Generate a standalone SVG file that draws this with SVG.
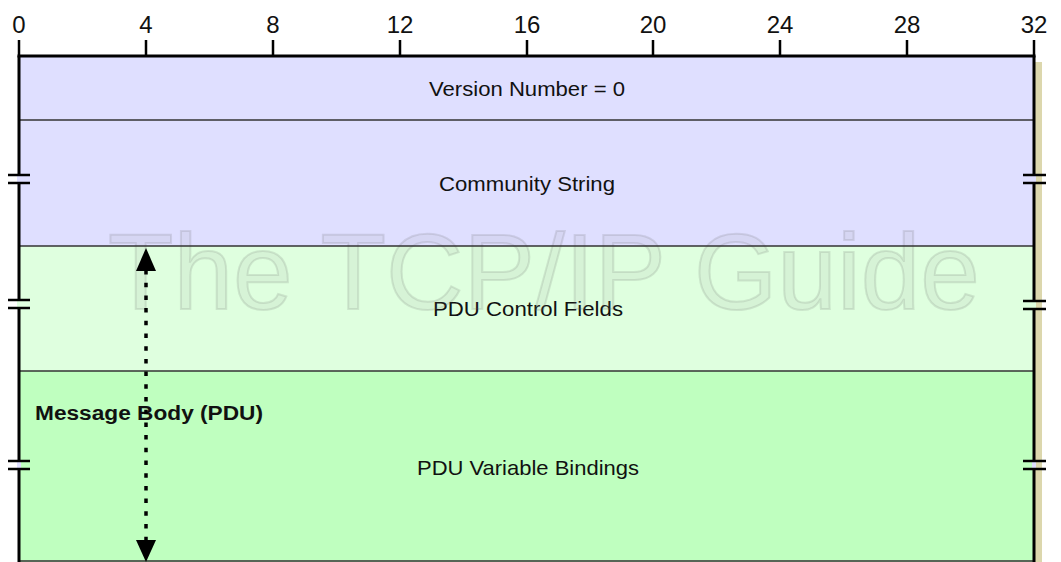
<svg xmlns="http://www.w3.org/2000/svg" width="1061" height="562" viewBox="0 0 1061 562">
  <style>
    .ruler { font-family: "Liberation Sans", Arial, sans-serif; font-size: 24px; fill: #111; text-anchor: middle; }
    .lbl { font-family: "Liberation Sans", Arial, sans-serif; font-size: 21px; fill: #111; text-anchor: middle; }
    .frame { stroke: #000; stroke-width: 3; fill: none; }
    .sep { stroke: #333; stroke-width: 1.5; }
    .brk { stroke: #000; stroke-width: 2.5; }
    .wm { font-family: "Liberation Sans", Arial, sans-serif; font-size: 107px; fill: #888; fill-opacity: 0.1; stroke: #666; stroke-opacity: 0.16; stroke-width: 2; }
  </style>
  <rect width="1061" height="562" fill="#fff"/>

  <!-- drop shadow on right edge -->
  <rect x="1035" y="62" width="7" height="500" fill="#dcd7ad"/>

  <!-- field rows -->
  <g id="version">
    <rect x="19" y="56" width="1015" height="64" fill="#dfdfff"/>
    <text class="lbl" x="527" y="96" textLength="196" lengthAdjust="spacingAndGlyphs">Version Number = 0</text>
  </g>
  <g id="community">
    <rect x="19" y="120" width="1015" height="126" fill="#dfdfff"/>
    <text class="lbl" x="527" y="191" textLength="176" lengthAdjust="spacingAndGlyphs">Community String</text>
  </g>
  <g id="pdu-control">
    <rect x="19" y="246" width="1015" height="125" fill="#dfffdf"/>
    <text class="lbl" x="528" y="316" textLength="190" lengthAdjust="spacingAndGlyphs">PDU Control Fields</text>
  </g>
  <g id="pdu-bindings">
    <rect x="19" y="371" width="1015" height="191" fill="#bfffbf"/>
    <text class="lbl" x="528" y="475" textLength="222" lengthAdjust="spacingAndGlyphs">PDU Variable Bindings</text>
  </g>

  <!-- watermark -->
  <text class="wm" x="108" y="309" textLength="872" lengthAdjust="spacingAndGlyphs">The TCP/IP Guide</text>

  <!-- row separators -->
  <line class="sep" x1="19" y1="120" x2="1034" y2="120"/>
  <line class="sep" x1="19" y1="246" x2="1034" y2="246"/>
  <line class="sep" x1="19" y1="371" x2="1034" y2="371"/>
  <line class="sep" x1="19" y1="561" x2="1034" y2="561"/>

  <!-- outer frame: top and sides -->
  <line class="frame" x1="17.5" y1="56" x2="1035.5" y2="56"/>
  <line class="frame" x1="19" y1="56" x2="19" y2="562"/>
  <line class="frame" x1="1034" y1="56" x2="1034" y2="562"/>

  <!-- ruler ticks and labels -->
  <g id="ruler">
    <g class="brk">
      <line x1="19" y1="40" x2="19" y2="56"/>
      <line x1="146" y1="40" x2="146" y2="56"/>
      <line x1="273" y1="40" x2="273" y2="56"/>
      <line x1="400" y1="40" x2="400" y2="56"/>
      <line x1="527" y1="40" x2="527" y2="56"/>
      <line x1="653" y1="40" x2="653" y2="56"/>
      <line x1="780" y1="40" x2="780" y2="56"/>
      <line x1="907" y1="40" x2="907" y2="56"/>
      <line x1="1034" y1="40" x2="1034" y2="56"/>
    </g>
    <text class="ruler" x="19" y="33">0</text>
    <text class="ruler" x="146" y="33">4</text>
    <text class="ruler" x="273" y="33">8</text>
    <text class="ruler" x="400" y="33">12</text>
    <text class="ruler" x="527" y="33">16</text>
    <text class="ruler" x="653" y="33">20</text>
    <text class="ruler" x="780" y="33">24</text>
    <text class="ruler" x="907" y="33">28</text>
    <text class="ruler" x="1034" y="33">32</text>
  </g>

  <!-- variable-length break marks on both edges -->
  <g id="breaks">
    <rect x="17" y="176" width="4" height="6" fill="#dfdfff"/>
    <rect x="1032" y="176" width="4" height="6" fill="#dfdfff"/>
    <rect x="17" y="301" width="4" height="6" fill="#dfffdf"/>
    <rect x="1032" y="302" width="4" height="6" fill="#dfffdf"/>
    <rect x="17" y="462" width="4" height="6" fill="#dfdfff"/>
    <rect x="1032" y="462" width="4" height="6" fill="#dfdfff"/>
    <g class="brk">
      <line x1="8" y1="175" x2="30" y2="175"/>
      <line x1="8" y1="183" x2="30" y2="183"/>
      <line x1="1023" y1="175" x2="1046" y2="175"/>
      <line x1="1023" y1="183" x2="1046" y2="183"/>
      <line x1="8" y1="300" x2="30" y2="300"/>
      <line x1="8" y1="308" x2="30" y2="308"/>
      <line x1="1023" y1="301" x2="1046" y2="301"/>
      <line x1="1023" y1="309" x2="1046" y2="309"/>
      <line x1="8" y1="461" x2="30" y2="461"/>
      <line x1="8" y1="469" x2="30" y2="469"/>
      <line x1="1023" y1="461" x2="1046" y2="461"/>
      <line x1="1023" y1="469" x2="1046" y2="469"/>
    </g>
  </g>

  <g id="message-body">
    <text x="35" y="420" font-family="'Liberation Sans', Arial, sans-serif" font-size="20" font-weight="bold" fill="#111" textLength="228" lengthAdjust="spacingAndGlyphs">Message Body (PDU)</text>
  </g>

  <!-- span arrow for the message body -->
  <g id="connectors">
    <line x1="146" y1="270" x2="146" y2="540" stroke="#000" stroke-width="3.5" stroke-dasharray="4.5 8.2"/>
    <path d="M146,248 L136,271 L156,271 z" fill="#000"/>
    <path d="M146,562 L136,540 L156,540 z" fill="#000"/>
  </g>
</svg>
